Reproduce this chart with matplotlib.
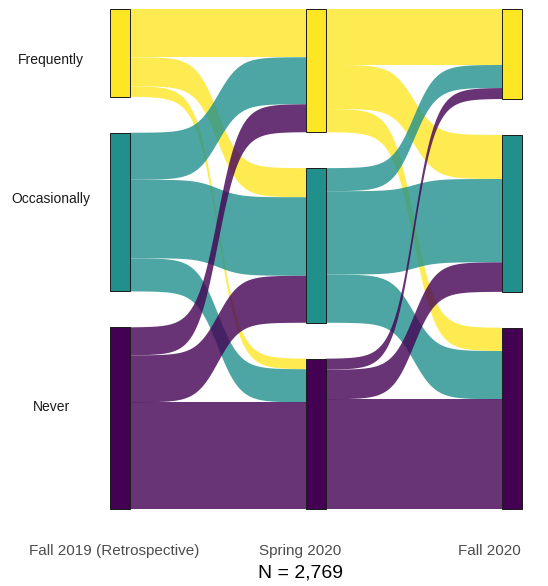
import numpy as np
import matplotlib
matplotlib.use("Agg")
import matplotlib.pyplot as plt
from matplotlib.patches import Rectangle

plt.rcParams['font.family'] = ['Liberation Sans', 'DejaVu Sans']

categories = ["Frequently", "Occasionally", "Never"]
waves = ["Fall 2019 (Retrospective)", "Spring 2020", "Fall 2020"]
colors = ["#FDE725", "#21908C", "#440154"]

# rows = origin category, cols = destination category
fall19_to_spring20 = [[312, 188, 68],
                      [304, 508, 214],
                      [181, 304, 690]]
spring20_to_fall20 = [[362, 285, 150],
                      [149, 539, 312],
                      [71, 191, 710]]
n_total = 2769

transitions = [np.array(fall19_to_spring20), np.array(spring20_to_fall20)]
gap = 233
node_w = 0.1

# node sizes per wave
sizes = [transitions[0].sum(axis=1), transitions[0].sum(axis=0), transitions[1].sum(axis=0)]


def node_bottoms(sz):
    # Frequently on top, Never at bottom
    bottoms = np.zeros(3)
    y = 0
    for k in [2, 1, 0]:
        bottoms[k] = y
        y += sz[k] + gap
    return bottoms


bottoms = [node_bottoms(s) for s in sizes]

fig = plt.figure(figsize=(5.48, 5.86), dpi=100)
ax = fig.add_axes([0, 0, 1, 1])
px = 2769 / 428.0  # data units per pixel
ax.set_xlim(1 - 120 / 196, 1 + 428 / 196)
ax.set_ylim(-(586 - 509) * px, 509 * px)
ax.axis("off")


def sigmoid(x0, x1, y0, y1, n=120, smooth=8):
    t = np.linspace(-smooth, smooth, n)
    s = 1 / (1 + np.exp(-t))
    return x0 + (t + smooth) / (2 * smooth) * (x1 - x0), y0 + s * (y1 - y0)


for p, mat in enumerate(transitions):
    xl = p + 1 + node_w / 2
    xr = p + 2 - node_w / 2
    left_top = bottoms[p] + sizes[p]
    right_top = bottoms[p + 1] + sizes[p + 1]
    for i in range(3):
        for j in range(3):
            v = mat[i, j]
            yl = left_top[i] - mat[i, :j].sum()
            yr = right_top[j] - mat[:i, j].sum()
            xs, ytop = sigmoid(xl, xr, yl, yr)
            _, ybot = sigmoid(xl, xr, yl - v, yr - v)
            ax.fill(np.concatenate([xs, xs[::-1]]), np.concatenate([ytop, ybot[::-1]]),
                    color=colors[i], alpha=0.8, lw=0, zorder=2)

for w in range(3):
    for k in range(3):
        ax.add_patch(Rectangle((w + 1 - node_w / 2, bottoms[w][k]), node_w, sizes[w][k],
                               facecolor=colors[k], edgecolor="#1a1a1a", lw=0.7, zorder=3))

# category labels
for lab, ypx in zip(categories, [60, 199, 407]):
    fig.text(51 / 548, 1 - ypx / 586, lab, ha="center", va="center",
             fontsize=10, color="#1a1a1a")

# wave labels
for lab, xpx in zip(waves, [114.5, 300.5, 489]):
    fig.text(xpx / 548, 1 - 551 / 586, lab, ha="center", va="center",
             fontsize=11, color="#4d4d4d")

fig.text(300.5 / 548, 1 - 573 / 586, "N = {:,}".format(n_total), ha="center", va="center",
         fontsize=14, color="black")

fig.savefig("out.png", dpi=100)
